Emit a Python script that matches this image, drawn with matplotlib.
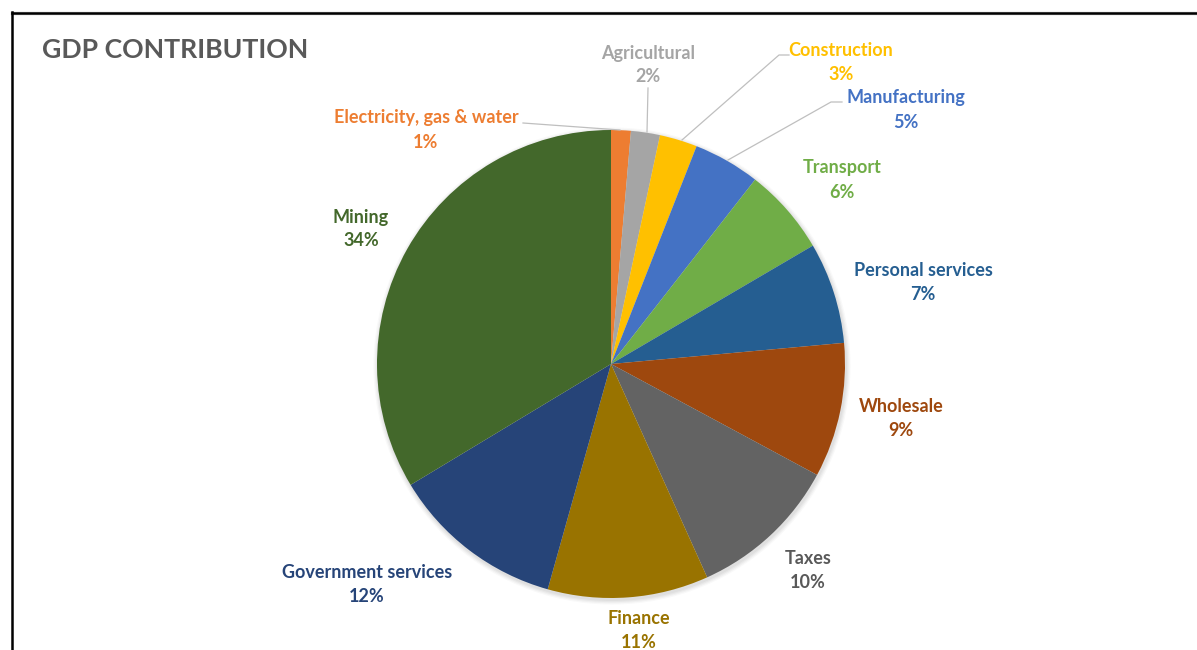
import matplotlib
matplotlib.use("Agg")
import matplotlib.pyplot as plt
from matplotlib.lines import Line2D
from matplotlib.patches import Circle

# ---- data ----
categories = ["Electricity, gas & water", "Agricultural", "Construction", "Manufacturing",
              "Transport", "Personal services", "Wholesale", "Taxes", "Finance",
              "Government services", "Mining"]
values = [1.36, 2.0, 2.6, 4.6, 6.0, 7.0, 9.3, 10.4, 11.1, 12.0, 33.64]
colors = ["#ED7D31", "#A5A5A5", "#FFC000", "#4472C4", "#70AD47", "#255E91",
          "#9E480E", "#636363", "#997300", "#264478", "#43682B"]
label_colors = ["#ED7D31", "#A5A5A5", "#FFC000", "#4472C4", "#70AD47", "#255E91",
                "#9E480E", "#595959", "#997300", "#264478", "#43682B"]

# ---- layout (pixel coords, y measured from top) ----
W, H = 1197, 650
cx, cy, R = 611, 364, 234
label_pos = [(426, 130), (648, 65), (841, 62), (906, 110), (842, 180), (923, 283),
             (901, 419), (808, 570), (639, 630), (367, 585), (361, 229)]
# leader lines: list of point sequences (pixel coords) per category index
leaders = {
    0: [(523, 123), (620, 130)],
    1: [(648, 88), (647, 132)],
    2: [(789, 55), (779, 55), (682, 140)],
    3: [(842, 102), (831, 102), (728, 160)],
}

FONT = ["Lato", "DejaVu Sans"]

fig = plt.figure(figsize=(W / 100, H / 100), dpi=100)
ax = fig.add_axes([0, 0, 1, 1])

def Y(y):
    return H - y

# soft shadow
for k, a in enumerate([0.035, 0.035, 0.03, 0.025]):
    ax.add_patch(Circle((cx + 1, Y(cy) - 2), R + 1 + k * 1.2, color="black", alpha=a, lw=0, zorder=1))

total = sum(values)
ax.pie(values, colors=colors, startangle=90, counterclock=False,
       center=(cx, Y(cy)), radius=R, frame=True,
       wedgeprops=dict(linewidth=0, edgecolor="none", zorder=2))
ax.set_xlim(0, W)
ax.set_ylim(0, H)
ax.set_aspect("equal")
ax.axis("off")

for i, (name, v) in enumerate(zip(categories, values)):
    x, y = label_pos[i]
    pct = round(v / total * 100)
    ax.text(x, Y(y), f"{name}\n{pct}%", ha="center", va="center", color=label_colors[i],
            fontsize=13, fontweight="bold", family=FONT, linespacing=1.5, zorder=5)

for i, pts in leaders.items():
    xs = [p[0] for p in pts]
    ys = [Y(p[1]) for p in pts]
    ax.plot(xs, ys, color="#BFBFBF", lw=0.9, zorder=3)

# title
ax.text(42, Y(50), "GDP CONTRIBUTION", ha="left", va="center", color="#595959",
        fontsize=19.2, fontweight="bold", family=FONT, zorder=5)

# border (chart frame partly cropped)
fig.add_artist(Line2D([11.5 / W, 1], [1 - 13 / H, 1 - 13 / H], color="#D0D0D0", lw=2.5, transform=fig.transFigure))
fig.add_artist(Line2D([11.5 / W, 1], [1 - 12.5 / H, 1 - 12.5 / H], color="black", lw=1.8, transform=fig.transFigure))
fig.add_artist(Line2D([11.5 / W, 11.5 / W], [0, 1 - 12 / H], color="black", lw=1.8, transform=fig.transFigure))

fig.savefig("out.png", dpi=100, facecolor="white")
